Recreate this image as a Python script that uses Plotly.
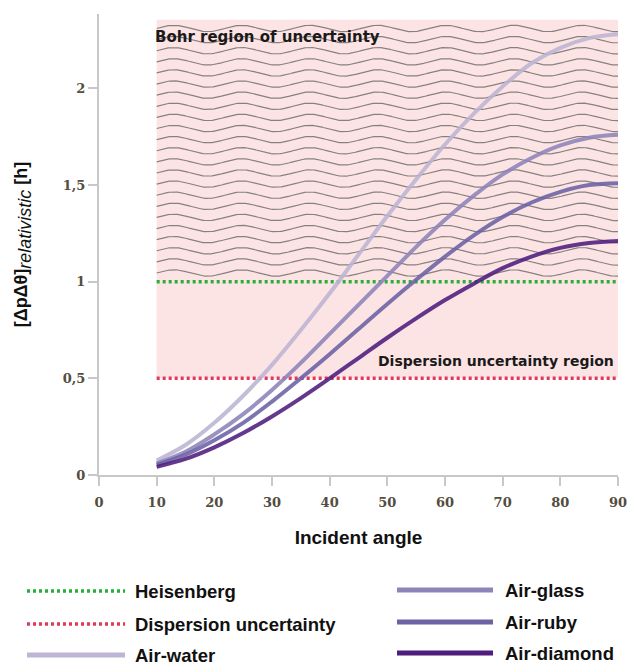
import numpy as np
import plotly.graph_objects as go

# ---------------- data ----------------
angles = [10, 15, 20, 25, 30, 35, 40, 45, 50, 55, 60, 65, 70, 75, 80, 85, 90]
air_water = [0.075, 0.155, 0.27, 0.41, 0.57, 0.75, 0.94, 1.14, 1.34, 1.53, 1.71, 1.87, 2.01, 2.13, 2.21, 2.26, 2.28]
air_glass = [0.06, 0.12, 0.21, 0.315, 0.44, 0.58, 0.73, 0.88, 1.03, 1.18, 1.32, 1.445, 1.555, 1.64, 1.705, 1.745, 1.76]
air_ruby = [0.052, 0.105, 0.18, 0.27, 0.38, 0.50, 0.625, 0.755, 0.885, 1.01, 1.13, 1.24, 1.335, 1.41, 1.465, 1.50, 1.51]
air_diamond = [0.042, 0.083, 0.143, 0.217, 0.303, 0.398, 0.50, 0.605, 0.71, 0.81, 0.905, 0.99, 1.07, 1.13, 1.175, 1.20, 1.21]

heisenberg_level = 1.0
dispersion_level = 0.5
region_x = [10, 90]
region_top = 2.355

x_ticks = [0, 10, 20, 30, 40, 50, 60, 70, 80, 90]
y_ticks = [0, 0.5, 1, 1.5, 2]

# ---------------- styles ----------------
c_water = "#bdb5d3"
c_glass = "#8e84ba"
c_ruby = "#6c62a6"
c_diamond = "#4e1d7e"
c_green = "#2aae3a"
c_red = "#e2395a"
axis_col = "#c8c8c8"
tick_font = dict(family="DejaVu Serif", size=13, color="#544d40", weight="bold")

fig = go.Figure()

# Bohr wavy hatch (decorative)
wx = np.linspace(region_x[0], region_x[1], 400)
xs, ys = [], []
base = 1.045
while base <= 2.345:
    xs += list(wx) + [None]
    ys += list(base + 0.0165 * np.sin(2 * np.pi * (wx - region_x[0]) / 11.8)) + [None]
    base += 0.0575
fig.add_trace(go.Scatter(x=xs, y=ys, mode="lines", line=dict(color="#878080", width=1.2),
                         hoverinfo="skip", showlegend=False))

# reference levels
fig.add_trace(go.Scatter(x=region_x, y=[heisenberg_level] * 2, mode="lines", name="Heisenberg",
                         line=dict(color=c_green, width=3.5, dash="3px,3px"), showlegend=False))
fig.add_trace(go.Scatter(x=region_x, y=[dispersion_level] * 2, mode="lines", name="Dispersion uncertainty",
                         line=dict(color=c_red, width=3.5, dash="3px,3px"), showlegend=False))

series = [("Air-water", air_water, c_water), ("Air-glass", air_glass, c_glass),
          ("Air-ruby", air_ruby, c_ruby), ("Air-diamond", air_diamond, c_diamond)]
for name, vals, col in series:
    fig.add_trace(go.Scatter(x=angles, y=vals, mode="lines", name=name, opacity=0.88,
                             line=dict(color=col, width=4, shape="spline"), showlegend=False))

# shaded uncertainty region
fig.add_shape(type="rect", xref="x", yref="y", x0=region_x[0], x1=region_x[1],
              y0=dispersion_level, y1=region_top, fillcolor="#fde4e4", line_width=0, layer="below")

ann_font = dict(family="DejaVu Sans", color="#1a1a1a")
fig.add_annotation(x=9.4, y=2.268, xref="x", yref="y", text="<b>Bohr region of uncertainty</b>",
                   showarrow=False, xanchor="left", yanchor="middle", font=dict(size=15, **ann_font))
fig.add_annotation(x=89.6, y=0.59, xref="x", yref="y", text="<b>Dispersion uncertainty region</b>",
                   showarrow=False, xanchor="right", yanchor="middle", font=dict(size=14, **ann_font))

# manual legend (two columns)
L, T, PW, PH = 99, 14, 519, 461
def px(xp):
    return (xp - L) / PW
def py(yp):
    return (T + PH - yp) / PH

legend_items = [
    ("Heisenberg", c_green, "3px,3px", 27, 125, 133, 591, 3.5),
    ("Dispersion uncertainty", c_red, "3px,3px", 27, 125, 133, 624, 3.5),
    ("Air-water", c_water, "solid", 27, 125, 133, 655, 5),
    ("Air-glass", c_glass, "solid", 397, 493, 503, 590, 5),
    ("Air-ruby", c_ruby, "solid", 397, 493, 503, 622, 5),
    ("Air-diamond", c_diamond, "solid", 397, 493, 503, 653, 5),
]
for label, col, dash, x0, x1, xt, yc, w in legend_items:
    fig.add_shape(type="line", xref="paper", yref="paper", x0=px(x0), x1=px(x1), y0=py(yc), y1=py(yc),
                  line=dict(color=col, width=w, dash=dash))
    fig.add_annotation(x=px(xt), y=py(yc), xref="paper", yref="paper", text="<b>" + label + "</b>",
                       showarrow=False, xanchor="left", yanchor="middle",
                       font=dict(family="Liberation Sans", size=18.5, color="#111111"))

ytitle = ("<b>[ΔpΔθ]</b><sub><span style='font-size:18px'><i>relativistic</i></span></sub>"
          " <b>[h]</b>")

fig.update_layout(
    width=630, height=666,
    margin=dict(l=L, r=12, t=T, b=666 - T - PH),
    plot_bgcolor="white", paper_bgcolor="white",
    separators=",.",
    showlegend=False,
    xaxis=dict(range=[0, 90], tickvals=x_ticks, showgrid=False, zeroline=False,
               showline=True, linecolor=axis_col, linewidth=2, automargin=False,
               ticks="outside", ticklen=9, tickwidth=2, tickcolor=axis_col,
               tickfont=tick_font, ticklabelstandoff=5,
               title=dict(text="<b>Incident angle</b>", standoff=22,
                          font=dict(family="Liberation Sans", size=19, color="#111111"))),
    yaxis=dict(range=[0, 2.385], tickvals=y_ticks, showgrid=False, zeroline=False,
               showline=True, linecolor=axis_col, linewidth=2, automargin=False,
               ticks="outside", ticklen=9, tickwidth=2, tickcolor=axis_col,
               tickfont=tick_font,
               title=dict(text=ytitle, standoff=30,
                          font=dict(family="Liberation Sans", size=18, color="#111111"))),
)

fig.write_html("out.html", config={"displayModeBar": False},
               post_script="document.body.style.margin='0';document.body.style.overflow='hidden';")
